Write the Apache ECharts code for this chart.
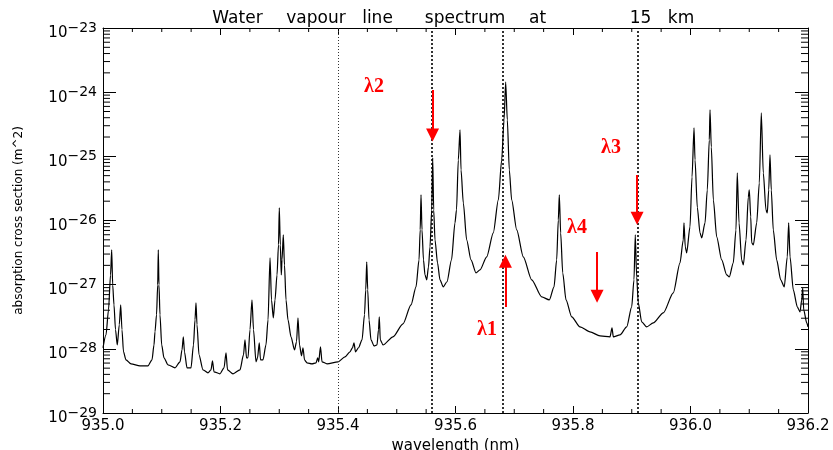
<!DOCTYPE html>
<html><head><meta charset="utf-8">
<script src="https://cdn.jsdelivr.net/npm/echarts@6/dist/echarts.min.js"></script>
<style>html,body{margin:0;padding:0;background:#fff}#c{width:833px;height:450px}</style>
</head><body><div id="c"></div>
<script>
// ---- data ----
const wavelength = [
935.0000, 935.0051, 935.0094, 935.0128, 935.0148, 935.0165, 935.0187, 935.0213, 935.0243, 935.0277,
935.0301, 935.0323, 935.0349, 935.0391, 935.0477, 935.0630, 935.0766, 935.0834, 935.0868, 935.0885,
935.0911, 935.0931, 935.0941, 935.0953, 935.0970, 935.0999, 935.1038, 935.1106, 935.1226, 935.1311,
935.1345, 935.1367, 935.1387, 935.1430, 935.1498, 935.1540, 935.1566, 935.1583, 935.1600, 935.1634,
935.1702, 935.1787, 935.1838, 935.1864, 935.1889, 935.1991, 935.2060, 935.2094, 935.2119, 935.2213,
935.2332, 935.2391, 935.2417, 935.2443, 935.2468, 935.2502, 935.2536, 935.2562, 935.2604, 935.2630,
935.2660, 935.2681, 935.2723, 935.2774, 935.2809, 935.2843, 935.2868, 935.2899, 935.2928, 935.2962,
935.2987, 935.3001, 935.3018, 935.3035, 935.3047, 935.3069, 935.3089, 935.3115, 935.3149, 935.3200,
935.3260, 935.3294, 935.3319, 935.3345, 935.3379, 935.3404, 935.3430, 935.3472, 935.3557, 935.3626,
935.3654, 935.3671, 935.3702, 935.3728, 935.3813, 935.4000, 935.4119, 935.4204, 935.4247, 935.4272,
935.4298, 935.4349, 935.4409, 935.4451, 935.4472, 935.4489, 935.4506, 935.4528, 935.4562, 935.4613,
935.4664, 935.4689, 935.4703, 935.4720, 935.4766, 935.4936, 935.5106, 935.5243, 935.5328, 935.5379,
935.5399, 935.5413, 935.5430, 935.5455, 935.5481, 935.5510, 935.5540, 935.5566, 935.5595, 935.5612,
935.5629, 935.5651, 935.5694, 935.5736, 935.5792, 935.5855, 935.5932, 935.5991, 935.6017, 935.6048,
935.6077, 935.6094, 935.6133, 935.6190, 935.6264, 935.6349, 935.6417, 935.6531, 935.6643, 935.6729,
935.6786, 935.6826, 935.6854, 935.6882, 935.6916, 935.6956, 935.7042, 935.7154, 935.7297, 935.7467,
935.7597, 935.7677, 935.7722, 935.7750, 935.7767, 935.7790, 935.7825, 935.7881, 935.7978, 935.8119,
935.8289, 935.8460, 935.8630, 935.8664, 935.8686, 935.8800, 935.8914, 935.8999, 935.9038, 935.9060,
935.9084, 935.9111, 935.9169, 935.9254, 935.9366, 935.9537, 935.9707, 935.9821, 935.9877, 935.9889,
935.9911, 935.9935, 935.9991, 936.0026, 936.0060, 936.0077, 936.0116, 936.0162, 936.0191, 936.0247,
936.0286, 936.0320, 936.0332, 936.0354, 936.0389, 936.0446, 936.0531, 936.0616, 936.0660, 936.0728,
936.0774, 936.0796, 936.0826, 936.0871, 936.0899, 936.0945, 936.0984, 936.1001, 936.1025, 936.1042,
936.1069, 936.1127, 936.1171, 936.1205, 936.1239, 936.1285, 936.1307, 936.1331, 936.1353, 936.1375,
936.1409, 936.1467, 936.1535, 936.1596, 936.1647, 936.1671, 936.1694, 936.1750, 936.1818, 936.1864,
936.1893, 936.1910, 936.1927, 936.1978, 936.2000
];
const crossSection = [
1.04e-28, 1.65e-28, 4.05e-28, 1.42e-27, 3.48e-27, 9.9e-28, 4.84e-28, 1.98e-28, 1.15e-28, 2.37e-28,
4.84e-28, 1.98e-28, 8.97e-29, 6.74e-29, 5.84e-29, 5.43e-29, 5.43e-29, 6.74e-29, 1.15e-28, 1.84e-28,
3.39e-28, 9.9e-28, 3.48e-27, 9.9e-28, 3.39e-28, 1.15e-28, 7.24e-29, 5.64e-29, 5.06e-29, 6.28e-29,
9.64e-29, 1.54e-28, 8.97e-29, 5.06e-29, 5.06e-29, 1.15e-28, 2.83e-28, 5.21e-28, 2.37e-28, 8.07e-29,
4.71e-29, 4.23e-29, 4.71e-29, 6.50e-29, 4.39e-29, 4.08e-29, 5.06e-29, 8.67e-29, 4.71e-29, 4.08e-29,
4.71e-29, 8.07e-29, 1.38e-28, 7.24e-29, 7.24e-29, 1.98e-28, 5.80e-28, 1.98e-28, 6.28e-29, 7.24e-29,
1.24e-28, 6.74e-29, 6.74e-29, 1.15e-28, 2.83e-28, 2.61e-27, 5.80e-28, 3.04e-28, 5.80e-28, 1.42e-27,
4.17e-27, 1.57e-26, 4.17e-27, 1.42e-27, 2.43e-27, 5.97e-27, 2.03e-27, 5.80e-28, 2.83e-28, 1.54e-28,
9.64e-29, 1.29e-28, 3.04e-28, 1.15e-28, 7.78e-29, 1.04e-28, 6.74e-29, 6.05e-29, 5.84e-29, 6.05e-29,
7.24e-29, 6.28e-29, 1.07e-28, 6.28e-29, 5.84e-29, 6.28e-29, 7.50e-29, 8.97e-29, 1.04e-28, 1.24e-28,
8.97e-29, 1.04e-28, 1.38e-28, 3.39e-28, 8.30e-28, 2.26e-27, 8.30e-28, 2.83e-28, 1.38e-28, 1.11e-28,
1.15e-28, 1.98e-28, 3.15e-28, 1.38e-28, 1.15e-28, 1.54e-28, 2.45e-28, 4.84e-28, 9.25e-28, 2.43e-27,
7.14e-27, 2.51e-26, 7.14e-27, 2.43e-27, 1.42e-27, 1.19e-27, 1.89e-27, 3.88e-27, 1.46e-26, 9.44e-26,
1.46e-26, 4.99e-27, 2.19e-27, 1.19e-27, 9.25e-28, 1.11e-27, 2.43e-27, 9.18e-27, 1.46e-26, 8.79e-26,
2.58e-25, 6.14e-26, 1.88e-26, 4.99e-27, 2.43e-27, 1.53e-27, 1.70e-27, 2.71e-27, 6.41e-27, 2.09e-26,
8.79e-26, 3.69e-25, 1.44e-24, 3.69e-25, 6.14e-26, 2.09e-26, 7.14e-27, 2.71e-27, 1.19e-27, 6.46e-28,
5.80e-28, 9.25e-28, 2.43e-27, 1.02e-26, 2.51e-26, 6.41e-27, 1.53e-27, 5.80e-28, 3.15e-28, 2.20e-28,
1.84e-28, 1.59e-28, 1.54e-28, 2.12e-28, 1.54e-28, 1.65e-28, 2.20e-28, 4.51e-28, 1.19e-27, 5.97e-27,
1.32e-27, 5.21e-28, 2.64e-28, 2.20e-28, 2.54e-28, 3.64e-28, 7.45e-28, 2.19e-27, 4.99e-27, 9.18e-27,
3.88e-27, 3.13e-27, 7.94e-27, 4.78e-26, 2.77e-25, 8.79e-26, 1.6e-26, 6.41e-27, 5.36e-27, 9.18e-27,
3.00e-26, 1.80e-25, 5.28e-25, 1.40e-25, 2.09e-26, 5.56e-27, 2.43e-27, 1.42e-27, 1.32e-27, 2.19e-27,
7.14e-27, 5.51e-26, 9.18e-27, 2.43e-27, 2.03e-27, 4.99e-27, 2.33e-26, 3.00e-26, 1.14e-26, 4.48e-27,
4.17e-27, 9.18e-27, 3.85e-26, 4.74e-25, 5.51e-26, 1.46e-26, 1.31e-26, 3.00e-26, 1.05e-25, 3.00e-26,
7.14e-27, 2.43e-27, 1.19e-27, 9.25e-28, 2.71e-27, 9.18e-27, 2.71e-27, 8.30e-28, 4.51e-28, 3.77e-28,
5.80e-28, 8.91e-28, 4.05e-28, 2.54e-28, 2.20e-28
];

const xTickLabels = ['935.0', '935.2', '935.4', '935.6', '935.8', '936.0', '936.2'];
const xMinorTicks = [935.05, 935.10, 935.15, 935.25, 935.30, 935.35, 935.45, 935.50, 935.55,
                     935.65, 935.70, 935.75, 935.85, 935.90, 935.95, 936.05, 936.10, 936.15];
const yTickExponents = ['\u221229', '\u221228', '\u221227', '\u221226', '\u221225', '\u221224', '\u221223'];
const yMinorMantissas = [2, 3, 4, 5, 6, 7, 8, 9];
const yMinorDecades = [-29, -28, -27, -26, -25, -24];

const dottedLines = [935.4, 935.561, 935.685, 935.906];
// arrows: [wavelength, start value, end value]
const arrows = [
  [935.561, 1.08e-24, 2.15e-25],   // lambda2, down
  [935.685, 4.5e-28, 2.31e-27],    // lambda1, up
  [935.841, 3.24e-27, 6.6e-28],    // lambda4, down
  [935.909, 5.13e-26, 1.08e-26]    // lambda3, down
];
const lambdaNames = ['\u03bb2', '\u03bb1', '\u03bb4', '\u03bb3'];
const lambdaPos = [[935.4613, 1.2e-24], [935.6536, 1.98e-28], [935.8068, 7.67e-27], [935.8647, 1.35e-25]];

const titleWords = ['Water', 'vapour', 'line', 'spectrum', 'at', '15', 'km'];
const titleCenters = [237.5, 316, 377.5, 465, 537.5, 640.5, 681];

// ---- chart ----
// values are plotted in units of 1e-29 m^2 so the log scale works with well-sized numbers
const UNIT = 1e-29;
const u = v => v / UNIT;
const FONT = 'DejaVu Sans';
const X_MIN = 935.0, X_MAX = 936.2, Y_MIN = 1, Y_MAX = 1e6;
const spectrum = wavelength.map((w, i) => [w, u(crossSection[i])]);
const yMinorValues = [];
yMinorDecades.forEach(d => yMinorMantissas.forEach(m => yMinorValues.push(m * Math.pow(10, d + 29))));

const chart = echarts.init(document.getElementById('c'), null, {renderer: 'canvas'});

const xCommon = {
  type: 'value', min: X_MIN, max: X_MAX, interval: 0.2,
  axisLine: {show: true, lineStyle: {color: '#000', width: 1}},
  axisTick: {show: true, inside: true, length: 7, lineStyle: {color: '#000'}},
  minorTick: {show: false},
  splitLine: {show: false}, minorSplitLine: {show: false}
};
const yCommon = {
  type: 'log', logBase: 10, min: Y_MIN, max: Y_MAX, splitNumber: 6,
  axisLine: {show: true, lineStyle: {color: '#000', width: 1}},
  axisTick: {show: true, inside: true, length: 13, lineStyle: {color: '#000'}},
  splitLine: {show: false}
};

// minor tick marks drawn as small bar-shaped symbols placed by the axes' scales
function tickSeries(points, size, offset) {
  return {
    type: 'scatter', data: points, xAxisIndex: 0, yAxisIndex: 0, silent: true, clip: false,
    symbol: 'rect', symbolSize: size, symbolOffset: offset, z: 10,
    itemStyle: {color: '#000', opacity: 1}, emphasis: {disabled: true}
  };
}

chart.setOption({
  animation: false,
  backgroundColor: '#fff',
  grid: {left: 103, right: 25, top: 28, bottom: 37, containLabel: false, outerBoundsMode: 'none'},
  xAxis: [
    Object.assign({}, xCommon, {
      position: 'bottom',
      name: 'wavelength (nm)', nameLocation: 'middle', nameGap: 20,
      nameTextStyle: {fontFamily: FONT, fontSize: 15, color: '#000'},
      axisLabel: {
        show: true, margin: 6, color: '#000', fontFamily: FONT, fontSize: 15,
        formatter: v => xTickLabels[Math.round((v - X_MIN) / 0.2)]
      }
    }),
    Object.assign({}, xCommon, {position: 'top', axisLabel: {show: false}})
  ],
  yAxis: [
    Object.assign({}, yCommon, {
      position: 'left',
      name: 'absorption cross section (m^2)', nameLocation: 'middle', nameGap: 78,
      nameTextStyle: {fontFamily: FONT, fontSize: 12, color: '#000'},
      axisLabel: {
        show: true, margin: 6, color: '#000',
        formatter: v => '{b|10}{s|' + yTickExponents[Math.round(Math.log10(v))] + '}',
        rich: {
          b: {fontFamily: FONT, fontSize: 15, color: '#000', padding: [11, 0, 0, 0]},
          s: {fontFamily: FONT, fontSize: 14, color: '#000'}
        }
      }
    }),
    Object.assign({}, yCommon, {position: 'right', axisLabel: {show: false}})
  ],
  graphic: titleWords.map((w, i) => ({
    type: 'text', x: titleCenters[i], y: 19, silent: true,
    style: {text: w, fill: '#000', fontFamily: FONT, fontSize: 17, align: 'center', verticalAlign: 'middle'}
  })),
  series: [
    {
      type: 'line', name: 'spectrum', data: spectrum, xAxisIndex: 0, yAxisIndex: 0,
      showSymbol: false, symbol: 'none', silent: true,
      smooth: 0.25, smoothMonotone: 'x',
      lineStyle: {color: '#000', width: 1.2}, z: 3
    },
    {
      type: 'line', data: [], xAxisIndex: 0, yAxisIndex: 0, silent: true, z: 4,
      markLine: {
        silent: true, symbol: ['none', 'none'], label: {show: false}, animation: false,
        data: dottedLines.map((x, i) => ({
          xAxis: x,
          lineStyle: i === 0 ? {color: '#333', width: 1, type: [1, 2]} : {color: '#000', width: 1.6, type: [2, 2]}
        }))
      }
    },
    {
      type: 'line', data: [], xAxisIndex: 0, yAxisIndex: 0, silent: true, z: 5,
      markLine: {
        silent: true, symbol: ['none', 'triangle'], symbolSize: 13, label: {show: false}, animation: false,
        lineStyle: {color: '#ff0000', width: 2, type: 'solid'},
        data: arrows.map(a => [{coord: [a[0], u(a[1])]}, {coord: [a[0], u(a[2])]}])
      },
      markPoint: {
        silent: true, symbol: 'circle', symbolSize: 1, itemStyle: {color: 'rgba(0,0,0,0)'}, animation: false,
        label: {show: true, position: 'inside', formatter: '{b}', color: '#ff0000',
                fontFamily: 'Liberation Serif', fontWeight: 'bold', fontSize: 20},
        data: lambdaNames.map((n, i) => ({name: n, coord: [lambdaPos[i][0], u(lambdaPos[i][1])]}))
      }
    },
    tickSeries(yMinorValues.map(v => [X_MIN, v]), [7, 1], [3.5, 0]),
    tickSeries(yMinorValues.map(v => [X_MAX, v]), [7, 1], [-3.5, 0]),
    tickSeries(xMinorTicks.map(v => [v, Y_MIN]), [1, 4], [0, -2]),
    tickSeries(xMinorTicks.map(v => [v, Y_MAX]), [1, 4], [0, 2])
  ]
});
</script></body></html>
